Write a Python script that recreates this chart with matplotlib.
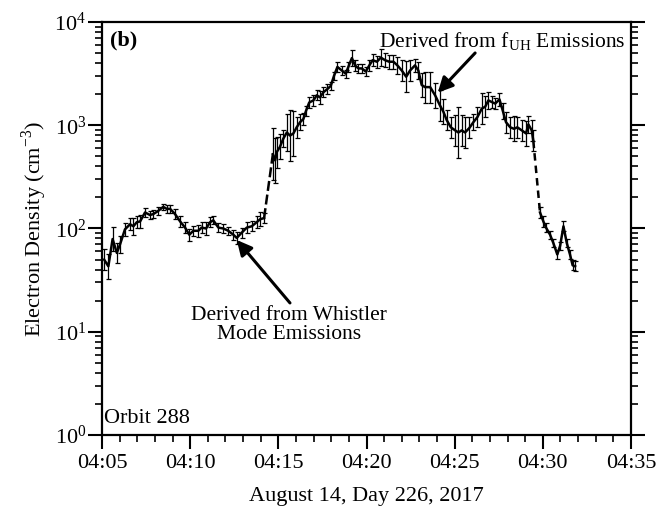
"""Electron density along orbit 288 (whistler-mode and f_UH derived)."""

from __future__ import annotations

import matplotlib

matplotlib.use("Agg")

import matplotlib.pyplot as plt
import numpy as np
from matplotlib.ticker import FixedLocator, LogLocator, NullFormatter

plt.rcParams["font.family"] = ["Liberation Serif", "DejaVu Serif"]
plt.rcParams["mathtext.fontset"] = "custom"
plt.rcParams["mathtext.rm"] = "Liberation Serif"

# time in minutes after 04:00 UT, density in cm^-3, error as half-width in dex
whistler_time = [
    5.12, 5.36, 5.60, 5.84, 6.02, 6.30, 6.59, 6.78, 6.97, 7.16,
    7.44, 7.72, 7.91, 8.19, 8.47, 8.67, 8.86, 9.14, 9.43, 9.71,
    9.95, 10.18, 10.46, 10.65, 10.90, 11.13, 11.31, 11.60, 11.88, 12.16,
    12.45, 12.64, 12.92, 13.21, 13.49, 13.77, 13.97, 14.19,
]
whistler_density = [
    50, 43, 79, 58, 70, 98, 110, 105, 115, 117,
    143, 135, 138, 148, 162, 155, 155, 138, 117, 102,
    87, 95, 95, 102, 100, 115, 120, 102, 100, 95,
    87, 81, 91, 102, 105, 115, 123, 126,
]
whistler_err = [
    0.10, 0.12, 0.12, 0.10, 0.08, 0.06, 0.06, 0.08, 0.06, 0.06,
    0.04, 0.04, 0.04, 0.04, 0.03, 0.04, 0.04, 0.05, 0.05, 0.05,
    0.06, 0.05, 0.06, 0.05, 0.06, 0.05, 0.04, 0.04, 0.04, 0.04,
    0.05, 0.06, 0.05, 0.05, 0.05, 0.06, 0.07, 0.05,
]

fuh_time = [
    14.69, 14.82, 14.91, 15.09, 15.28, 15.48, 15.66, 15.85, 16.04, 16.23,
    16.42, 16.57, 16.75, 16.99, 17.18, 17.36, 17.56, 17.78, 17.97, 18.16,
    18.35, 18.60, 18.82, 18.97, 19.17, 19.35, 19.54, 19.73, 19.96, 20.16,
    20.35, 20.59, 20.81, 21.05, 21.29, 21.53, 21.75, 22.00, 22.25, 22.47,
    22.75, 22.94, 23.13, 23.32, 23.61, 23.89, 24.17, 24.36, 24.55, 24.78,
    25.03, 25.21, 25.40, 25.59, 25.84, 26.06, 26.29, 26.54, 26.73, 26.91,
    27.10, 27.30, 27.54, 27.73, 27.91, 28.15, 28.37, 28.55, 28.81, 29.05,
    29.18, 29.37, 29.46,
]
fuh_density = [
    525, 457, 550, 617, 741, 851, 794, 832, 955, 1070,
    1150, 1380, 1660, 1740, 1950, 1860, 2090, 2240, 2400, 3020,
    3670, 3390, 3160, 3670, 4470, 3800, 3550, 3550, 3310, 3800,
    4270, 4120, 4520, 4270, 4120, 4120, 3800, 3390, 2950, 3390,
    3800, 3390, 2450, 2340, 2340, 1950, 1550, 1350, 1120, 955,
    891, 851, 891, 851, 944, 1070, 1200, 1450, 1510, 1740,
    1680, 1620, 1780, 1380, 1070, 955, 923, 955, 891, 832,
    1020, 891, 708,
]
fuh_err = [
    0.25, 0.22, 0.15, 0.12, 0.08, 0.18, 0.25, 0.22, 0.10, 0.08,
    0.06, 0.05, 0.05, 0.05, 0.05, 0.06, 0.05, 0.05, 0.04, 0.04,
    0.05, 0.04, 0.04, 0.05, 0.08, 0.05, 0.04, 0.04, 0.04, 0.05,
    0.06, 0.06, 0.08, 0.07, 0.07, 0.07, 0.08, 0.10, 0.15, 0.10,
    0.06, 0.08, 0.12, 0.15, 0.15, 0.12, 0.15, 0.12, 0.10, 0.10,
    0.15, 0.25, 0.15, 0.15, 0.10, 0.08, 0.10, 0.15, 0.10, 0.08,
    0.06, 0.05, 0.06, 0.08, 0.10, 0.10, 0.12, 0.10, 0.10, 0.12,
    0.08, 0.10, 0.10,
]

tail_time = [29.84, 30.03, 30.18, 30.41, 30.60, 30.82, 30.98, 31.17, 31.36, 31.54, 31.69, 31.83]
tail_density = [143, 117, 102, 87, 72, 56, 68, 105, 72, 56, 44, 43]
tail_err = [0.05, 0.05, 0.04, 0.04, 0.04, 0.04, 0.04, 0.05, 0.04, 0.04, 0.05, 0.05]

tick_minutes = [5, 10, 15, 20, 25, 30, 35]
tick_labels = ["04:05", "04:10", "04:15", "04:20", "04:25", "04:30", "04:35"]


def draw_segment(ax, time, density, err_dex):
    """Draw a density trace with log-symmetric error bars."""

    density = np.asarray(density, dtype=float)
    err = np.asarray(err_dex, dtype=float)
    lower = density - density / 10**err
    upper = density * 10**err - density
    ax.errorbar(
        time, density, yerr=[lower, upper], color="black", lw=1.8,
        elinewidth=0.9, capsize=1.8, capthick=0.9,
    )


fig = plt.figure(figsize=(6.69, 5.16), dpi=100)
ax = fig.add_axes([0.1525, 0.157, 0.7907, 0.8004])

draw_segment(ax, whistler_time, whistler_density, whistler_err)
draw_segment(ax, fuh_time, fuh_density, fuh_err)
draw_segment(ax, tail_time, tail_density, tail_err)

# dashed links across the gaps between segments
ax.plot([whistler_time[-1], fuh_time[0]], [whistler_density[-1], fuh_density[0]],
        color="black", lw=1.8, ls=(0, (4, 1.5)))
ax.plot([fuh_time[-1], tail_time[0]], [fuh_density[-1], tail_density[0]],
        color="black", lw=1.8, ls=(0, (3, 2)))

ax.set_yscale("log")
ax.set_xlim(5, 35)
ax.set_ylim(1, 1e4)

ax.set_xticks(tick_minutes, tick_labels)
ax.xaxis.set_minor_locator(FixedLocator(np.arange(5, 36, 1)))
ax.yaxis.set_major_locator(LogLocator(base=10, numticks=10))
ax.yaxis.set_minor_locator(LogLocator(base=10, subs=np.arange(2, 10), numticks=20))
ax.yaxis.set_minor_formatter(NullFormatter())

ax.tick_params(axis="both", which="major", direction="out", length=10, width=1.5, labelsize=16)
ax.tick_params(axis="both", which="minor", direction="out", length=5, width=1.2)
ax.tick_params(axis="x", which="major", pad=4)
ax.tick_params(axis="y", which="major", pad=1.5)
ax.tick_params(axis="y", which="both", right=True)
ax.tick_params(axis="x", which="both", top=False)
for spine in ax.spines.values():
    spine.set_linewidth(1.6)

ax.set_xlabel("August 14, Day 226, 2017", fontsize=16, labelpad=10)
ax.set_ylabel("Electron Density (cm$^{-3}$)", fontsize=16, labelpad=4)

ax.text(0.015, 0.956, "(b)", transform=ax.transAxes, fontsize=16,
        fontweight="bold", va="center", ha="left")
ax.text(0.004, 0.039, "Orbit 288", transform=ax.transAxes, fontsize=16,
        va="center", ha="left")

arrow = dict(arrowstyle="-|>,head_length=0.9,head_width=0.45", color="black", lw=2.2,
             shrinkA=0, shrinkB=0)
ax.annotate("", xy=(12.64, 77.4), xytext=(15.66, 19.0), arrowprops=arrow)
ax.text(15.61, 11.6, "Derived from Whistler\nMode Emissions", fontsize=15.5,
        ha="center", va="center", linespacing=0.95)

ax.annotate("", xy=(24.04, 2067), xytext=(26.16, 5010), arrowprops=arrow)
ax.text(34.67, 6400, r"Derived from f$_{\mathrm{UH}}$ Emissions", fontsize=15.5,
        ha="right", va="center")

fig.savefig("out.png", dpi=100)
plt.close(fig)
